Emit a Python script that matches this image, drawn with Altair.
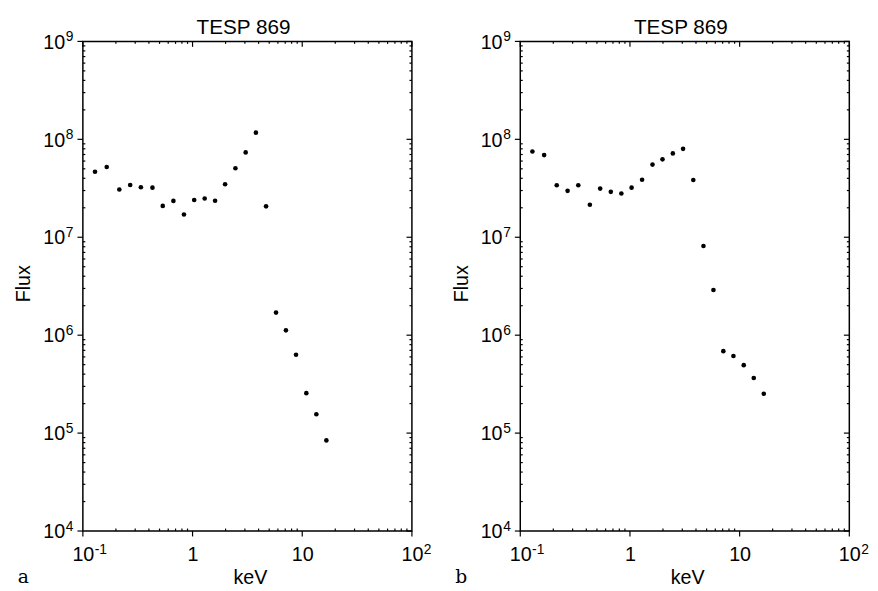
import altair as alt
import pandas as pd

# ---- data ----
energy_kev = [0.129, 0.165, 0.215, 0.270, 0.338, 0.431, 0.535, 0.669, 0.835,
              1.035, 1.29, 1.605, 1.98, 2.46, 3.05, 3.78, 4.68, 5.77, 7.10,
              8.78, 10.9, 13.45, 16.6]
flux_a = [4.66e7, 5.22e7, 3.07e7, 3.42e7, 3.24e7, 3.21e7, 2.09e7, 2.35e7,
          1.71e7, 2.40e7, 2.49e7, 2.36e7, 3.48e7, 5.07e7, 7.35e7, 1.17e8,
          2.07e7, 1.70e6, 1.12e6, 6.31e5, 2.56e5, 1.56e5, 8.42e4]
flux_b = [7.52e7, 6.90e7, 3.40e7, 2.98e7, 3.40e7, 2.15e7, 3.14e7, 2.91e7,
          2.80e7, 3.21e7, 3.87e7, 5.52e7, 6.25e7, 7.18e7, 8.00e7, 3.84e7,
          8.13e6, 2.89e6, 6.87e5, 6.12e5, 4.94e5, 3.65e5, 2.52e5]
panel_letters = ["a", "b"]
panel_title = "TESP 869"
x_title = "keV"
y_title = "Flux"

x_major = [0.1, 1, 10, 100]
x_major_base = ["10", "1", "10", "10"]
x_major_exp = ["-1", "", "", "2"]
x_minor = [k * 10.0 ** e for e in (-1, 0, 1) for k in range(2, 10)]
y_major = [1e4, 1e5, 1e6, 1e7, 1e8, 1e9]
y_major_base = ["10", "10", "10", "10", "10", "10"]
y_major_exp = ["4", "5", "6", "7", "8", "9"]
y_minor = [k * 10.0 ** e for e in (4, 5, 6, 7, 8) for k in range(2, 10)]

# ---- layout / style ----
W, H = 334, 497
FONT = "Liberation Sans"
XS = alt.Scale(type="log", domain=[0.1, 100], nice=False)
YS = alt.Scale(type="log", domain=[1e4, 1e9], nice=False)
X = alt.X("energy:Q", scale=XS, axis=None)
Y = alt.Y("flux:Q", scale=YS, axis=None)
TICK = dict(color="black", strokeWidth=1.2)


def panel(flux, letter):
    pts = pd.DataFrame({"energy": energy_kev, "flux": flux})
    xmaj = pd.DataFrame({"energy": x_major, "base": x_major_base, "exp": x_major_exp})
    xmin = pd.DataFrame({"energy": x_minor})
    ymaj = pd.DataFrame({"flux": y_major, "base": y_major_base, "exp": y_major_exp})
    ymin = pd.DataFrame({"flux": y_minor})
    one = lambda s: pd.DataFrame({"t": [s]})

    layers = [
        # ticks
        alt.Chart(xmaj).mark_rule(**TICK).encode(x=X, y=alt.value(H), y2=alt.value(H + 5.5)),
        alt.Chart(xmaj).mark_rule(**TICK).encode(x=X, y=alt.value(0), y2=alt.value(5.5)),
        alt.Chart(xmin).mark_rule(**TICK).encode(x=X, y=alt.value(H - 2.5), y2=alt.value(H)),
        alt.Chart(xmin).mark_rule(**TICK).encode(x=X, y=alt.value(0), y2=alt.value(2.5)),
        alt.Chart(ymaj).mark_rule(**TICK).encode(y=Y, x=alt.value(-5.5), x2=alt.value(0)),
        alt.Chart(ymaj).mark_rule(**TICK).encode(y=Y, x=alt.value(W - 5.5), x2=alt.value(W)),
        alt.Chart(ymin).mark_rule(**TICK).encode(y=Y, x=alt.value(0), x2=alt.value(2.5)),
        alt.Chart(ymin).mark_rule(**TICK).encode(y=Y, x=alt.value(W - 2.5), x2=alt.value(W)),
        # x tick labels
        alt.Chart(xmaj).mark_text(font=FONT, fontSize=20, align="center", baseline="alphabetic",
                                  dx=0.5, color="black").encode(x=X, y=alt.value(H + 30.7), text="base:N"),
        alt.Chart(xmaj).mark_text(font=FONT, fontSize=14, align="left", baseline="alphabetic",
                                  dx=12, color="black").encode(x=X, y=alt.value(H + 23.4), text="exp:N"),
        # y tick labels
        alt.Chart(ymaj).mark_text(font=FONT, fontSize=20, align="right", baseline="alphabetic",
                                  dy=7.3, color="black").encode(y=Y, x=alt.value(-18), text="base:N"),
        alt.Chart(ymaj).mark_text(font=FONT, fontSize=14, align="left", baseline="alphabetic",
                                  color="black").encode(y=Y, x=alt.value(-17.3), text="exp:N"),
        # titles
        alt.Chart(one(x_title)).mark_text(font=FONT, fontSize=20, align="center", baseline="alphabetic",
                                          color="black").encode(x=alt.value(W / 2 + 3), y=alt.value(H + 53.4), text="t:N"),
        alt.Chart(one(y_title)).mark_text(font=FONT, fontSize=20, align="center", baseline="alphabetic",
                                          angle=270, color="black").encode(x=alt.value(-53.5), y=alt.value(H / 2 - 2.5), text="t:N"),
        alt.Chart(one(panel_title)).mark_text(font=FONT, fontSize=21, align="center", baseline="alphabetic",
                                              color="black").encode(x=alt.value(W / 2 - 4), y=alt.value(-8), text="t:N"),
        alt.Chart(one(letter)).mark_text(font="DejaVu Serif", fontSize=19, align="left", baseline="alphabetic",
                                         color="black").encode(x=alt.value(-66), y=alt.value(H + 52.4), text="t:N"),
        # data points
        alt.Chart(pts).mark_circle(size=22, color="black", opacity=1).encode(x=X, y=Y),
    ]
    return alt.layer(*layers).properties(width=W, height=H)


chart = alt.hconcat(panel(flux_a, panel_letters[0]), panel(flux_b, panel_letters[1]),
                    spacing=110, bounds="flush").configure_view(
    stroke="black", strokeWidth=1.5
).properties(padding={"left": 5, "top": 3.5, "right": 0, "bottom": 0})

chart.save("out.html", embed_options={"renderer": "svg", "actions": False})
